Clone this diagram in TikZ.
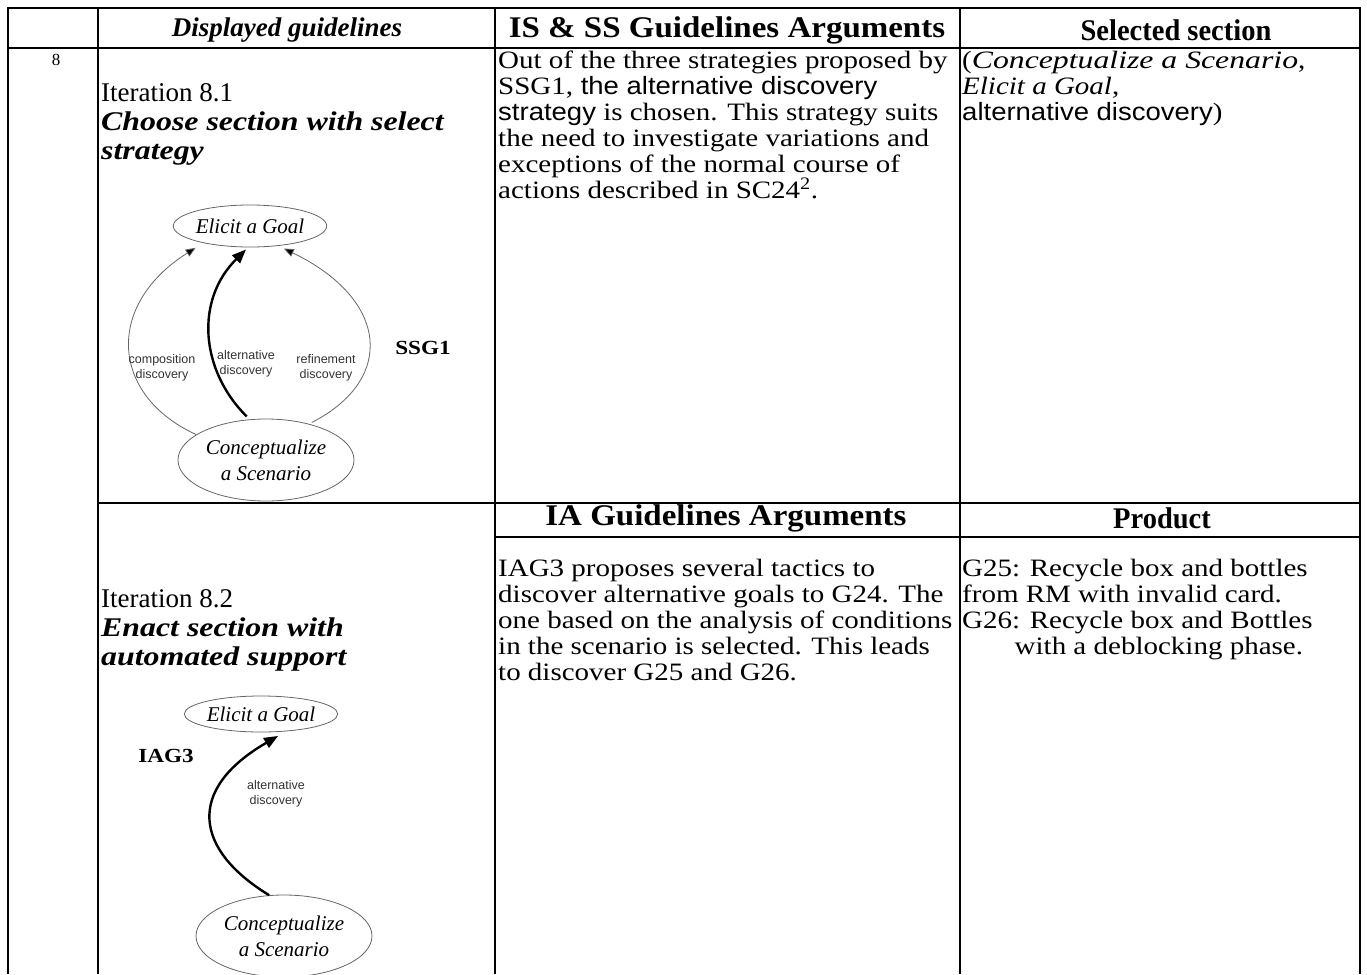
\documentclass[tikz,border=0pt]{standalone}
\usepackage{fontspec}
\setmainfont{Liberation Serif}[FakeStretch=1.16]
\newfontfamily\serifplain{Liberation Serif}
\newfontfamily\serifwide{Liberation Serif}[FakeStretch=1.18]
\newfontfamily\serifxwide{Liberation Serif}[FakeStretch=1.27]
\newfontfamily\hdmid{Liberation Serif}[FakeStretch=0.95]
\newfontfamily\hdwide{Liberation Serif}[FakeStretch=1.1]
\newfontfamily\arialfont{Liberation Sans}[FakeStretch=1.1]
\newfontfamily\diagfont{Liberation Serif}
\newfontfamily\diagsans{Liberation Sans}
\usetikzlibrary{arrows.meta,shapes.geometric}
\begin{document}
\begin{tikzpicture}[x=1pt,y=-1pt,
  grid/.style={line width=2pt,black},
  hdr/.style={inner sep=0pt,font=\fontsize{30}{32}\selectfont\bfseries},
  body/.style={inner sep=0pt,anchor=north west,align=left,font=\fontsize{25}{26}\selectfont},
  lefthead/.style={inner sep=0pt,anchor=north west,align=left,font=\serifplain\fontsize{27}{29}\selectfont},
  goal/.style={ellipse,draw=black!60,line width=0.8pt,inner sep=0pt,font=\diagfont\itshape\fontsize{21}{26}\selectfont,align=center},
  lbl/.style={inner sep=0pt,align=center,text=black!80,font=\diagsans\fontsize{12.5}{15}\selectfont},
  guide/.style={inner sep=0pt,font=\fontsize{20}{22}\selectfont\bfseries},
  thinarrow/.style={draw=black!60,line width=0.8pt,-{Triangle[length=10pt,width=8pt,fill=black]}},
  thickarrow/.style={draw=black,line width=2.4pt,-{Triangle[length=14pt,width=11pt]}}
]
\useasboundingbox (0,0) rectangle (1367,974);
% table grid
\draw[grid] (8,974) -- (8,8) -- (1360,8) -- (1360,974);
\draw[grid] (8,48) -- (1360,48);
\draw[grid] (98,8) -- (98,974);
\draw[grid] (495,8) -- (495,974);
\draw[grid] (960,8) -- (960,974);
\draw[grid] (98,503) -- (1360,503);
\draw[grid] (495,537) -- (1360,537);
% headers
\node[hdr,font=\serifplain\fontsize{27}{30}\selectfont\bfseries\itshape] (hdisp) at (287,30) {Displayed guidelines};
\node[hdr] (hargs) at (727,30) {\hdwide\bfseries IS \& SS Guidelines Arguments};
\node[hdr] (hsel) at (1176,30) {\hdmid\bfseries Selected section};
\node[hdr] (hia) at (726,518) {\hdwide\bfseries IA Guidelines Arguments};
\node[hdr] (hprod) at (1162,518) {\hdmid\bfseries Product};
\node[inner sep=0pt,font=\serifplain\fontsize{17}{18}\selectfont] (num) at (56,60) {8};
% row 1 texts
\node[lefthead] (it1) at (101,83) {Iteration 8.1\\{\serifwide\bfseries\itshape Choose section with select}\\{\serifwide\bfseries\itshape strategy}};
\node[body] (arg1) at (498,51) {Out of the three strategies proposed by\\
SSG1,{\arialfont{} the alternative discovery}\\
{\arialfont strategy} is chosen. This strategy suits\\
the need to investigate variations and\\
exceptions of the normal course of\\
actions described in SC24\textsuperscript{2}.};
\node[body] (sel1) at (962,51) {({\serifxwide\itshape Conceptualize a Scenario},\\
\textit{Elicit a Goal},\\
{\arialfont alternative discovery})};
% row 2 texts
\node[lefthead] (it2) at (101,589) {Iteration 8.2\\{\serifwide\bfseries\itshape Enact section with}\\{\serifwide\bfseries\itshape automated support}};
\node[body] (arg2) at (498,559) {IAG3 proposes several tactics to\\
discover alternative goals to G24. The\\
one based on the analysis of conditions\\
in the scenario is selected. This leads\\
to discover G25 and G26.};
\node[body] (prod2) at (962,559) {G25: Recycle box and bottles\\
from RM with invalid card.\\
G26: Recycle box and Bottles\\
\hspace*{2.1em}with a deblocking phase.};
% upper diagram
\node[goal,minimum width=138pt,minimum height=42pt] (E1) at (250,226) {Elicit a Goal};
\node[goal,minimum width=176pt,minimum height=82pt] (C1) at (266,460) {Conceptualize\\a Scenario};
\draw[thinarrow,shorten >=9pt] (C1.160) .. controls (110,395) and (105,305) .. (E1.200);
\draw[thickarrow,shorten <=4pt,shorten >=3pt] (C1.112) .. controls (200,370) and (195,300) .. (E1.265);
\draw[thinarrow,shorten <=3pt,shorten >=6pt] (C1.40) .. controls (395,380) and (390,300) .. (E1.325);
\node[lbl] (l1) at (162,368) {composition\\discovery};
\node[lbl] (l2) at (246,364) {alternative\\discovery};
\node[lbl] (l3) at (326,368) {refinement\\discovery};
\node[guide] (ssg) at (423,348) {SSG1};
% lower diagram
\node[goal,minimum width=148pt,minimum height=36pt] (E2) at (261,714) {Elicit a Goal};
\node[goal,minimum width=176pt,minimum height=82pt] (C2) at (284,936) {Conceptualize\\a Scenario};
\draw[thickarrow,shorten >=9pt] (C2.110) .. controls (195,850) and (185,790) .. (E2.325);
\node[lbl] (l4) at (276,794) {alternative\\discovery};
\node[guide] (iag) at (166,756) {IAG3};
\end{tikzpicture}
\end{document}
